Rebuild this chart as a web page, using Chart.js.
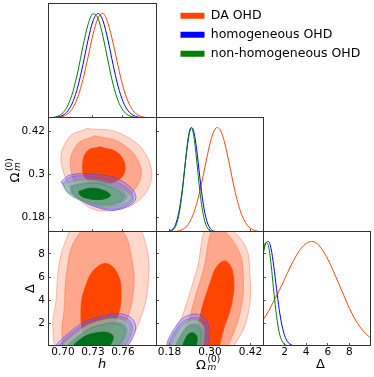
<!DOCTYPE html>
<html>
<head>
<meta charset="utf-8">
<script src="https://cdn.jsdelivr.net/npm/chart.js@4.4.1/dist/chart.umd.min.js"></script>
<style>
  html, body { margin: 0; padding: 0; background: #fff; }
  body { width: 374px; height: 377px; position: relative; overflow: hidden; font-family: 'DejaVu Sans', sans-serif; }
  .panel { position: absolute; }
  .panel canvas { display: block; }
  .lbl { position: absolute; color: #000; line-height: 1; white-space: nowrap; z-index: 5; }
  .big { font-size: 13px; }
  .small { font-size: 9px; }
  .rot { transform: rotate(-90deg); transform-origin: 50% 50%; }
</style>
</head>
<body>
<div class="panel" style="left:174px;top:3px;width:200px;height:150px"><canvas id="cLegend"></canvas></div>
<div class="panel" style="left:48px;top:3px;width:109px;height:115px"><canvas id="c11"></canvas></div>
<div class="panel" style="left:0px;top:117px;width:157px;height:115px"><canvas id="c21"></canvas></div>
<div class="panel" style="left:0px;top:231px;width:157px;height:146px"><canvas id="c31"></canvas></div>
<div class="panel" style="left:156px;top:117px;width:108px;height:115px"><canvas id="c22"></canvas></div>
<div class="panel" style="left:156px;top:231px;width:108px;height:146px"><canvas id="c32"></canvas></div>
<div class="panel" style="left:263px;top:231px;width:108px;height:146px"><canvas id="c33"></canvas></div>

<!-- axis titles -->
<div class="lbl big" style="left:98px;top:357px;font-style:italic">h</div>
<div class="lbl" style="left:196px;top:355px;width:25px;height:18px">
  <span class="lbl big" style="left:0;top:3.3px">Ω</span>
  <span class="lbl small" style="left:11.5px;top:0">(0)</span>
  <span class="lbl small" style="left:11.5px;top:8.2px;font-style:italic">m</span>
</div>
<div class="lbl big" style="left:316px;top:357px">Δ</div>
<div class="lbl rot" style="left:1px;top:161px;width:25px;height:18px">
  <span class="lbl big" style="left:0;top:3.3px">Ω</span>
  <span class="lbl small" style="left:11.5px;top:0">(0)</span>
  <span class="lbl small" style="left:11.5px;top:8.2px;font-style:italic">m</span>
</div>
<div class="lbl big rot" style="left:25px;top:282px">Δ</div>

<script>
// ---- series ----
const seriesNames = ['DA OHD', 'homogeneous OHD', 'non-homogeneous OHD'];
const seriesColors = ['#ff4500', '#0000ff', '#008000'];

// ---- axis ranges / ticks ----
const hRange = [0.685, 0.794];
const omRange = [0.14, 0.46];
const deltaRange = [0, 10];
const densRange = [0, 1.1];
const hTicks = [0.70, 0.73, 0.76];
const hTickLabels = ['0.70', '0.73', '0.76'];
const omTicks = [0.18, 0.30, 0.42];
const omXTickLabels = ['0.18', '0.30', '0.42'];
const omYTickLabels = ['0.18', '0.3', '0.42'];
const deltaTicks = [2, 4, 6, 8];
const deltaTickLabels = ['2', '4', '6', '8'];

// ---- 1D marginals (peak = 1) ----
const hGrid = [0.685, 0.69, 0.695, 0.70, 0.705, 0.71, 0.715, 0.72, 0.725, 0.73, 0.735,
               0.74, 0.745, 0.75, 0.755, 0.76, 0.765, 0.77, 0.775, 0.78, 0.785, 0.79];
const hDA     = [0.0005, 0.0014, 0.005, 0.015, 0.042, 0.10, 0.205, 0.37, 0.58, 0.80, 0.955,
                 1.0, 0.905, 0.72, 0.50, 0.30, 0.16, 0.072, 0.028, 0.010, 0.003, 0.001];
const hHom    = [0.0008, 0.0025, 0.009, 0.027, 0.07, 0.158, 0.306, 0.514, 0.744, 0.929, 1.0,
                 0.929, 0.744, 0.514, 0.306, 0.158, 0.07, 0.027, 0.009, 0.0025, 0.0006, 0.0001];
const hNonHom = [0.0014, 0.0055, 0.018, 0.051, 0.123, 0.255, 0.452, 0.687, 0.894, 0.997, 0.952,
                 0.778, 0.545, 0.325, 0.167, 0.074, 0.028, 0.009, 0.0025, 0.0006, 0.0001, 0];

const omGridDA = [0.15, 0.16, 0.17, 0.18, 0.19, 0.20, 0.21, 0.22, 0.23, 0.24, 0.25, 0.26, 0.27, 0.28, 0.29, 0.30,
                  0.31, 0.32, 0.33, 0.34, 0.35, 0.36, 0.37, 0.38, 0.39, 0.40, 0.41, 0.42, 0.43, 0.44, 0.45, 0.46];
const omDA = [0.0001, 0.0002, 0.0003, 0.0009, 0.0024, 0.0058, 0.013, 0.027, 0.053, 0.097, 0.167, 0.264, 0.392, 0.543, 0.70, 0.846,
              0.951, 0.999, 0.978, 0.894, 0.762, 0.607, 0.45, 0.31, 0.20, 0.12, 0.068, 0.036, 0.018, 0.008, 0.003, 0.001];
const omGrid = [0.17, 0.175, 0.18, 0.185, 0.19, 0.195, 0.20, 0.205, 0.21, 0.215, 0.22, 0.225, 0.23, 0.235, 0.24, 0.245,
                0.25, 0.255, 0.26, 0.265, 0.27, 0.275, 0.28, 0.285, 0.29, 0.295, 0.30, 0.305, 0.31, 0.315, 0.32];
const omHom = [0.0014, 0.0033, 0.007, 0.015, 0.029, 0.052, 0.091, 0.149, 0.23, 0.335, 0.46, 0.607, 0.748, 0.872, 0.96, 0.999,
               0.982, 0.912, 0.80, 0.664, 0.52, 0.385, 0.27, 0.177, 0.111, 0.066, 0.037, 0.019, 0.0096, 0.0045, 0.002];
const omNonHom = [0.0005, 0.0014, 0.0034, 0.008, 0.018, 0.036, 0.068, 0.122, 0.20, 0.31, 0.45, 0.607, 0.76, 0.894, 0.978, 0.999,
                  0.951, 0.846, 0.70, 0.543, 0.39, 0.264, 0.167, 0.097, 0.053, 0.027, 0.013, 0.0058, 0.0024, 0.0009, 0.0003];

const deltaGridDA = [0, 0.5, 1, 1.5, 2, 2.5, 3, 3.5, 4, 4.5, 5, 5.5, 6, 6.5, 7, 7.5, 8, 8.5, 9, 9.5, 10];
const deltaDA = [0.25, 0.33, 0.43, 0.53, 0.64, 0.75, 0.85, 0.93, 0.98, 1.0, 0.98,
                 0.92, 0.83, 0.72, 0.60, 0.48, 0.36, 0.26, 0.18, 0.12, 0.075];
const deltaGrid = [0, 0.25, 0.5, 0.75, 1, 1.25, 1.5, 1.75, 2, 2.25, 2.5, 2.75, 3, 3.25, 3.5];
const deltaHom = [0.90, 0.98, 1.0, 0.93, 0.76, 0.55, 0.35, 0.20, 0.10, 0.045, 0.018, 0.006, 0.002, 0.0005, 0];
const deltaNonHom = [0.86, 0.99, 0.96, 0.78, 0.52, 0.29, 0.13, 0.05, 0.015, 0.004, 0.001, 0, 0, 0, 0];

// ---- 2D contours: [x, y] outlines, outer / mid / inner ----
// h vs Omega_m
const hOmDA3 = [[0.7237, 0.428], [0.757, 0.4145], [0.785, 0.345], [0.7837, 0.252], [0.752, 0.201], [0.7203, 0.220], [0.6987, 0.326], [0.7053, 0.401]];
const hOmDA2 = [[0.7317, 0.408], [0.7583, 0.387], [0.777, 0.326], [0.7737, 0.266], [0.7503, 0.220], [0.722, 0.238], [0.7077, 0.317], [0.7137, 0.382]];
const hOmDA1 = [[0.737, 0.377], [0.7553, 0.359], [0.762, 0.317], [0.7553, 0.285], [0.737, 0.275], [0.723, 0.289], [0.7197, 0.326], [0.7243, 0.365]];
const hOmHom3 = [[0.698, 0.28], [0.707, 0.2986], [0.7303, 0.3004], [0.757, 0.2847], [0.773, 0.2383], [0.7603, 0.2058], [0.737, 0.2058], [0.7053, 0.2522]];
const hOmHom2 = [[0.6997, 0.2772], [0.7087, 0.2939], [0.7303, 0.2939], [0.7553, 0.2772], [0.7703, 0.2383], [0.7587, 0.2077], [0.737, 0.2086], [0.707, 0.2448]];
const hOmHom1 = [[0.707, 0.2689], [0.7303, 0.28], [0.752, 0.2661], [0.7637, 0.2356], [0.7453, 0.2132], [0.7187, 0.229], [0.7087, 0.2476]];
const hOmNon3 = [[0.7003, 0.2754], [0.727, 0.2847], [0.7537, 0.2661], [0.7687, 0.2337], [0.747, 0.2105], [0.717, 0.229], [0.7037, 0.2522]];
const hOmNon2 = [[0.7087, 0.2661], [0.7303, 0.2754], [0.7503, 0.2615], [0.7603, 0.2356], [0.7437, 0.217], [0.7203, 0.229], [0.7103, 0.2476]];
const hOmNon1 = [[0.7157, 0.2531], [0.7287, 0.2620], [0.7427, 0.2535], [0.7472, 0.2405], [0.737, 0.2305], [0.723, 0.2345], [0.7168, 0.2432]];

// h vs Delta
const hDeDA3 = [[0.762, -0.35], [0.697, -0.35], [0.690, 1.39], [0.693, 4.0], [0.696, 7.04], [0.703, 9.22], [0.717, 11.39], [0.742, 12.26], [0.767, 11.39], [0.783, 8.78], [0.785, 5.30], [0.777, 2.26]];
const hDeDA2 = [[0.750, -0.35], [0.704, -0.35], [0.699, 0.96], [0.701, 3.13], [0.704, 6.61], [0.712, 9.22], [0.732, 10.78], [0.757, 10.26], [0.769, 7.48], [0.770, 4.43], [0.762, 1.83]];
const hDeDA1 = [[0.734, 0.17], [0.722, 0.87], [0.718, 3.13], [0.723, 5.30], [0.733, 6.78], [0.745, 7.13], [0.755, 6.17], [0.758, 4.87], [0.756, 2.96], [0.747, 1.22]];
const hDeHom3 = [[0.7603, -0.35], [0.6937, -0.35], [0.7137, 1.68], [0.737, 2.55], [0.7603, 2.75], [0.772, 1.97], [0.7687, 0.52]];
const hDeHom2 = [[0.757, -0.35], [0.6963, -0.35], [0.7153, 1.54], [0.737, 2.38], [0.7587, 2.55], [0.769, 1.83], [0.7653, 0.46]];
const hDeHom1 = [[0.7503, -0.35], [0.7053, -0.35], [0.722, 1.25], [0.7403, 1.91], [0.757, 2.03], [0.7643, 1.45], [0.7587, 0.17]];
const hDeNon3 = [[0.7537, -0.35], [0.6987, -0.35], [0.717, 1.39], [0.737, 2.2], [0.757, 2.32], [0.7663, 1.68], [0.762, 0.37]];
const hDeNon2 = [[0.7487, -0.35], [0.7037, -0.35], [0.7203, 1.16], [0.7387, 1.83], [0.7553, 1.91], [0.762, 1.39], [0.757, 0.23]];
const hDeNon1 = [[0.7437, -0.35], [0.7087, -0.35], [0.7187, 0.67], [0.7337, 1.16], [0.747, 1.10], [0.7503, 0.67]];

// Omega_m vs Delta
const omDeDA3 = [[0.3643, -0.35], [0.1815, -0.35], [0.2209, 2.84], [0.2606, 6.6], [0.30, 10.6], [0.3939, 9.2], [0.4185, 6.03], [0.4087, 2.26]];
const omDeDA2 = [[0.3494, -0.35], [0.2209, -0.35], [0.2458, 3.13], [0.2802, 6.6], [0.3148, 10.3], [0.3791, 8.64], [0.3987, 6.03], [0.3889, 2.84]];
const omDeDA1 = [[0.3248, -0.35], [0.2556, -0.35], [0.2704, 2.55], [0.300, 5.45], [0.3226, 7.0], [0.3494, 7.35], [0.3693, 6.03], [0.3643, 3.71], [0.3397, 1.39]];
const omDeHom3 = [[0.2902, -0.35], [0.1765, -0.35], [0.2013, 1.83], [0.2458, 2.75], [0.2852, 2.4], [0.2981, 1.10]];
const omDeHom2 = [[0.2822, -0.35], [0.1835, -0.35], [0.2061, 1.68], [0.2487, 2.46], [0.2852, 2.06], [0.2902, 0.81]];
const omDeHom1 = [[0.2704, -0.35], [0.2061, -0.35], [0.2229, 1.33], [0.2526, 1.92], [0.2783, 1.45], [0.2783, 0.38]];
const omDeNon3 = [[0.2754, -0.35], [0.1894, -0.35], [0.2111, 1.54], [0.2487, 2.26], [0.2783, 1.83], [0.2822, 0.67]];
const omDeNon2 = [[0.2654, -0.35], [0.2013, -0.35], [0.2209, 1.25], [0.2487, 1.83], [0.2704, 1.45], [0.2724, 0.52]];
const omDeNon1 = [[0.2556, -0.35], [0.2209, -0.35], [0.2289, 0.75], [0.2458, 1.16], [0.2606, 0.87], [0.2606, 0.23]];

// ---- styles ----
const levelFill = [
  ['rgba(255,110,70,0.28)', 'rgba(255,100,55,0.42)', 'rgb(255,69,0)'],
  ['rgba(100,100,255,0.30)', 'rgba(95,95,240,0.30)', 'rgba(40,40,220,0.55)'],
  ['rgba(155,205,155,0.60)', 'rgba(100,165,110,0.60)', 'rgb(0,112,28)']
];
const levelEdge = [
  ['rgba(255,110,70,0.55)', 'rgba(255,95,45,0.5)', 'rgb(255,69,0)'],
  ['rgba(70,70,255,0.75)', 'rgba(80,80,240,0.55)', 'rgba(40,40,220,0.6)'],
  ['rgba(100,170,100,0.7)', 'rgba(70,145,80,0.7)', 'rgb(0,112,28)']
];

Chart.defaults.font.family = "'DejaVu Sans', sans-serif";
Chart.defaults.color = '#000';

const framePlugin = {
  id: 'frame',
  afterDraw(chart) {
    const {ctx, chartArea: a} = chart;
    ctx.save();
    ctx.strokeStyle = '#333';
    ctx.lineWidth = 1;
    ctx.strokeRect(a.left + 0.5, a.top + 0.5, a.right - a.left - 1, a.bottom - a.top - 1);
    ctx.restore();
  }
};

function axis(range, opts) {
  const o = Object.assign({ticks: [], labels: null, position: 'bottom', size: 0, display: true}, opts);
  const horiz = o.position === 'bottom';
  return {
    type: 'linear', position: o.position, min: range[0], max: range[1], display: o.display, z: 1,
    afterBuildTicks: s => { s.ticks = o.ticks.map(v => ({value: v})); },
    afterFit: s => {
      if (horiz) s.height = o.size; else s.width = o.size;
      // labels never push the plot area in
      s.paddingTop = s.paddingBottom = s.paddingLeft = s.paddingRight = 0;
    },
    ticks: {
      display: !!o.labels, autoSkip: false, maxRotation: 0, minRotation: 0,
      font: {size: 10.5}, color: '#000', padding: horiz ? 3 : 6,
      callback: (v, i) => (o.labels ? o.labels[i] : '')
    },
    grid: {drawOnChartArea: false, drawTicks: true, tickLength: -3, tickColor: '#333', tickWidth: 0.8},
    border: {display: false}
  };
}

function curve(xs, ys, si) {
  return {
    data: xs.map((x, i) => ({x, y: ys[i]})),
    showLine: true, borderColor: seriesColors[si], borderWidth: 1, pointRadius: 0,
    cubicInterpolationMode: 'monotone', fill: false, order: 3 - si
  };
}

function region(pts, si, lvl) {
  const data = pts.map(([x, y]) => ({x, y}));
  data.push({x: pts[0][0], y: pts[0][1]});
  return {
    data, showLine: true, pointRadius: 0, tension: 0.42, capBezierPoints: false,
    backgroundColor: levelFill[si][lvl], borderColor: levelEdge[si][lvl], borderWidth: 0.8,
    fill: 'shape', order: 100 - si * 10 - lvl
  };
}

function contourSet(sets) {
  const out = [];
  sets.forEach((levels, si) => levels.forEach((pts, lvl) => out.push(region(pts, si, lvl))));
  return out;
}

function panel(id, scales, datasets) {
  return new Chart(document.getElementById(id), {
    type: 'scatter',
    data: {datasets},
    options: {
      responsive: true, maintainAspectRatio: false, animation: false, devicePixelRatio: 1,
      events: [],
      layout: {padding: 0, autoPadding: false},
      plugins: {legend: {display: false}, tooltip: {enabled: false}},
      scales
    },
    plugins: [framePlugin]
  });
}

// top-left: h marginal
panel('c11', {
  x: axis(hRange, {ticks: hTicks}),
  y: axis(densRange, {display: false, position: 'left'})
}, [curve(hGrid, hDA, 0), curve(hGrid, hHom, 1), curve(hGrid, hNonHom, 2)]);

// h vs Omega_m
panel('c21', {
  x: axis(hRange, {ticks: hTicks}),
  y: axis(omRange, {position: 'left', ticks: omTicks, labels: omYTickLabels, size: 48})
}, contourSet([[hOmDA3, hOmDA2, hOmDA1], [hOmHom3, hOmHom2, hOmHom1], [hOmNon3, hOmNon2, hOmNon1]]));

// h vs Delta
panel('c31', {
  x: axis(hRange, {ticks: hTicks, labels: hTickLabels, size: 31}),
  y: axis(deltaRange, {position: 'left', ticks: deltaTicks, labels: deltaTickLabels, size: 48})
}, contourSet([[hDeDA3, hDeDA2, hDeDA1], [hDeHom3, hDeHom2, hDeHom1], [hDeNon3, hDeNon2, hDeNon1]]));

// Omega_m marginal
panel('c22', {
  x: axis(omRange, {ticks: omTicks}),
  y: axis(densRange, {display: false, position: 'left'}),
  yt: axis(omRange, {position: 'left', ticks: omTicks})
}, [curve(omGridDA, omDA, 0), curve(omGrid, omHom, 1), curve(omGrid, omNonHom, 2)]);

// Omega_m vs Delta
panel('c32', {
  x: axis(omRange, {ticks: omTicks, labels: omXTickLabels, size: 31}),
  y: axis(deltaRange, {position: 'left', ticks: deltaTicks})
}, contourSet([[omDeDA3, omDeDA2, omDeDA1], [omDeHom3, omDeHom2, omDeHom1], [omDeNon3, omDeNon2, omDeNon1]]));

// Delta marginal
panel('c33', {
  x: axis(deltaRange, {ticks: deltaTicks, labels: deltaTickLabels, size: 31}),
  y: axis(densRange, {display: false, position: 'left'}),
  yt: axis(deltaRange, {position: 'left', ticks: deltaTicks})
}, [curve(deltaGridDA, deltaDA, 0), curve(deltaGrid, deltaHom, 1), curve(deltaGrid, deltaNonHom, 2)]);

// legend
new Chart(document.getElementById('cLegend'), {
  type: 'scatter',
  data: {datasets: seriesNames.map((name, i) => ({label: name, data: [], backgroundColor: seriesColors[i], borderWidth: 0}))},
  options: {
    responsive: true, maintainAspectRatio: false, animation: false, devicePixelRatio: 1, events: [],
    layout: {padding: 0},
    scales: {x: {display: false}, y: {display: false}},
    plugins: {
      tooltip: {enabled: false},
      legend: {
        display: true, position: 'top', align: 'start',
        labels: {boxWidth: 24, boxHeight: 6, padding: 6.5, font: {size: 12.5}, color: '#000'}
      }
    }
  }
});
</script>
</body>
</html>
